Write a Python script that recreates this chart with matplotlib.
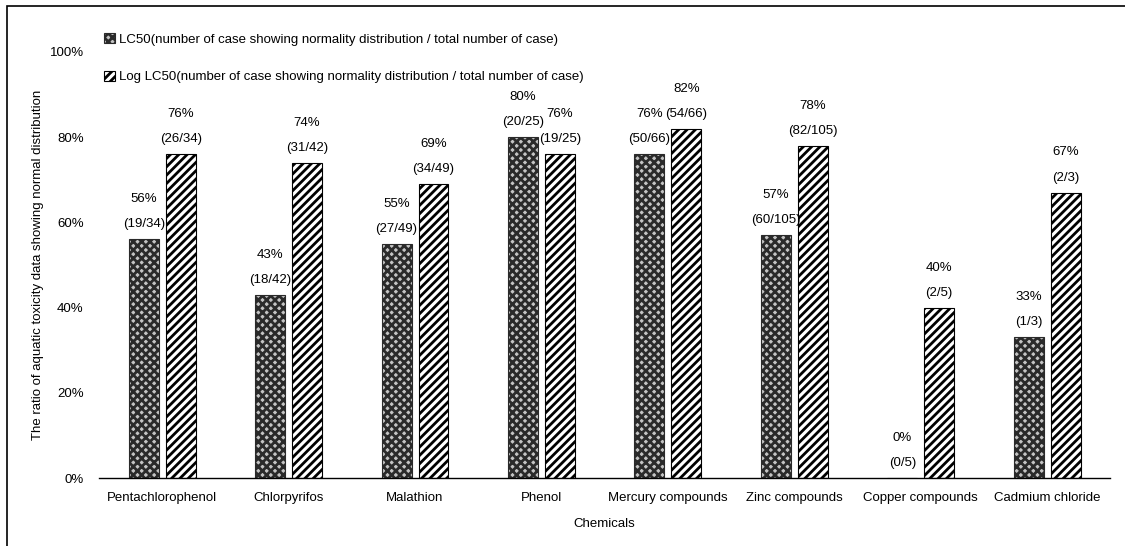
import numpy as np
import matplotlib.pyplot as plt
from matplotlib.patches import Rectangle

plt.rcParams['font.family'] = ['Liberation Sans', 'DejaVu Sans']
plt.rcParams['hatch.linewidth'] = 2.0

chemicals = ['Pentachlorophenol', 'Chlorpyrifos', 'Malathion', 'Phenol',
             'Mercury compounds', 'Zinc compounds', 'Copper compounds', 'Cadmium chloride']
lc50_pct = [56, 43, 55, 80, 76, 57, 0, 33]
lc50_frac = ['(19/34)', '(18/42)', '(27/49)', '(20/25)', '(50/66)', '(60/105)', '(0/5)', '(1/3)']
log_pct = [76, 74, 69, 76, 82, 78, 40, 67]
log_frac = ['(26/34)', '(31/42)', '(34/49)', '(19/25)', '(54/66)', '(82/105)', '(2/5)', '(2/3)']

fig = plt.figure(figsize=(11.25, 5.46), dpi=100)
ax = fig.add_axes([0.088, 0.1245, 0.899, 0.7805])

x = np.arange(len(chemicals))
w = 0.237
off = 0.146

b1 = ax.bar(x - off, np.array(lc50_pct) / 100, w, facecolor='#c4c4c4', edgecolor='#2a2a2a',
            hatch='xxxx', linewidth=0.8,
            label='LC50(number of case showing normality distribution / total number of case)')
b2 = ax.bar(x + off, np.array(log_pct) / 100, w, facecolor='white', edgecolor='black',
            hatch='////', linewidth=0.8,
            label='Log LC50(number of case showing normality distribution / total number of case)')

for xi, p, f in zip(x - off, lc50_pct, lc50_frac):
    ax.text(xi, p / 100 + 0.035, f, ha='center', va='center', fontsize=9.5)
    ax.text(xi, p / 100 + 0.094, f'{p}%', ha='center', va='center', fontsize=9.5)
for xi, p, f in zip(x + off, log_pct, log_frac):
    ax.text(xi, p / 100 + 0.035, f, ha='center', va='center', fontsize=9.5)
    ax.text(xi, p / 100 + 0.094, f'{p}%', ha='center', va='center', fontsize=9.5)

ax.set_xlim(-0.5, len(chemicals) - 0.5)
ax.set_ylim(0, 1.0)
ax.set_yticks(np.arange(0, 1.01, 0.2))
ax.set_yticklabels([f'{int(v)}%' for v in np.arange(0, 101, 20)], fontsize=9.5)
ax.set_xticks(x)
ax.set_xticklabels(chemicals, fontsize=9.5)
ax.tick_params(axis='y', length=0, pad=11)
ax.tick_params(axis='x', length=0, pad=10)
for s in ['top', 'right', 'left']:
    ax.spines[s].set_visible(False)
ax.spines['bottom'].set_linewidth(1.0)

ax.set_xlabel('Chemicals', fontsize=9.5, labelpad=10)
ax.set_ylabel('The ratio of aquatic toxicity data showing normal distribution', fontsize=9.5, labelpad=4)

fig.legend(handles=[b1, b2], loc='upper left', bbox_to_anchor=(104 / 1125, 1 - 33 / 546),
           frameon=False, fontsize=9.5, handlelength=0.8, handleheight=0.8,
           handletextpad=0.3, labelspacing=1.9, borderaxespad=0, borderpad=0)

fig.patches.append(Rectangle((7 / 1125, -0.1), 1.2, 1 - 6 / 546 + 0.1, transform=fig.transFigure,
                             fill=False, edgecolor='black', linewidth=1.2))

fig.savefig('out.png', dpi=100)
